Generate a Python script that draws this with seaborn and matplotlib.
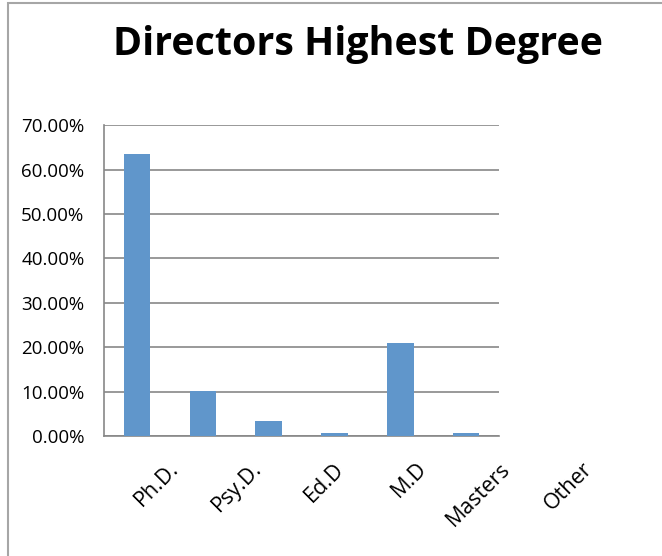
import matplotlib
matplotlib.use("Agg")
import matplotlib.pyplot as plt
import matplotlib.transforms as mtransforms
import seaborn as sns
import pandas as pd
from matplotlib.patches import Rectangle
from matplotlib.ticker import FuncFormatter, MultipleLocator

# datos
grados = ['Ph.D.', 'Psy.D.', 'Ed.D', 'M.D', 'Masters', 'Other']
porcentajes = [63.4, 10.2, 3.4, 0.6, 21.0, 0.6]

df = pd.DataFrame({'grado': grados, 'pct': porcentajes})

sns.set_style("white")
plt.rcParams['font.family'] = ['Open Sans', 'DejaVu Sans']
plt.rcParams['text.color'] = 'black'
plt.rcParams['xtick.color'] = 'black'
plt.rcParams['ytick.color'] = 'black'

fig = plt.figure(figsize=(6.62, 5.56), dpi=100)
ax = fig.add_axes([0.157, 0.216, 0.597, 0.559])

sns.barplot(data=df, x='grado', y='pct', color='#6096CB', width=0.4,
            saturation=1, linewidth=0, ax=ax, zorder=3)

ax.set_ylim(0, 70)
ax.yaxis.set_major_locator(MultipleLocator(10))
ax.yaxis.set_major_formatter(FuncFormatter(lambda v, p: f'{v:.2f}%'))
ax.grid(axis='y', color='#878787', linewidth=1.2, zorder=0)
ax.set_xlabel('')
ax.set_ylabel('')
for s in ['top', 'right']:
    ax.spines[s].set_visible(False)
for s in ['left', 'bottom']:
    ax.spines[s].set_color('#878787')
    ax.spines[s].set_linewidth(1.2)
ax.tick_params(axis='y', labelsize=13.5, pad=14, length=0, labelcolor='black')
ax.tick_params(axis='x', labelsize=15.5, pad=4, length=0, labelcolor='black')

# las etiquetas de Excel quedan corridas a la derecha
for i, lbl in enumerate(ax.get_xticklabels()):
    lbl.set_rotation(45)
    lbl.set_ha('right')
    lbl.set_va('top')
    lbl.set_rotation_mode('anchor')
    desp = mtransforms.ScaledTranslation((31 + 17 * i) / 100, -17 / 100, fig.dpi_scale_trans)
    lbl.set_transform(lbl.get_transform() + desp)

fig.text(0.541, 1 - 55 / 556, 'Directors Highest Degree', ha='center', va='baseline',
         fontsize=28.4, fontweight='bold', color='black')

# marco del area del grafico
fig.patches.append(Rectangle((8 / 662, -0.05), 1.0, 1.05 - 3 / 556,
                             transform=fig.transFigure, fill=False,
                             edgecolor='#A6A6A6', linewidth=1.5))

plt.savefig('out.png', dpi=100)
